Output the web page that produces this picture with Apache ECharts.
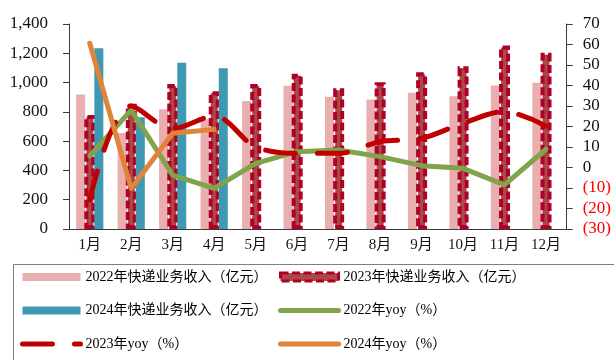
<!DOCTYPE html>
<html>
<head>
<meta charset="utf-8">
<script src="https://cdn.jsdelivr.net/npm/echarts@6/dist/echarts.min.js"></script>
<style>
  html, body { margin: 0; padding: 0; background: #fff; }
  #chart { width: 614px; height: 360px; }
</style>
</head>
<body>
<div id="chart"></div>
<script>
// Monthly express-delivery revenue (亿元) and year-on-year growth (%)
const months = ['1月', '2月', '3月', '4月', '5月', '6月', '7月', '8月', '9月', '10月', '11月', '12月'];
const rev2022 = [918, 656, 818, 750, 875, 978, 903, 885, 930, 907, 980, 998];
const rev2023 = [779, 855, 990, 941, 990, 1060, 961, 1002, 1070, 1111, 1253, 1203];
const rev2024 = [1234, 763, 1136, 1098];
const yoy2022 = [5.6, 28, -3.7, -10.2, 2, 7.7, 8.5, 5.3, 0.9, -0.4, -8.5, 8.9];
const yoy2023 = [-15.9, 30, 19, 25, 10.2, 6.9, 6.9, 12.6, 14.2, 21.6, 27.2, 20.2];
const yoy2024 = [60.6, -10.2, 16.7, 18.6];
const leftTicks = { min: 0, max: 1400, step: 200 };
const rightTicks = { min: -30, max: 70, step: 10 };

const names = [
  '2022年快递业务收入（亿元）',
  '2023年快递业务收入（亿元）',
  '2024年快递业务收入（亿元）',
  '2022年yoy（%）',
  '2023年yoy（%）',
  '2024年yoy（%）'
];

const FONT = '"Liberation Serif", "Times New Roman", "Noto Sans CJK SC", serif';
const AXIS_COLOR = '#3a3a3a';
const C_PINK = '#E9AFAE';
const C_TEAL = '#4099B2';
const C_GREEN = '#7FA449';
const C_ORANGE = '#E0843C';
const C_RED = '#C00000';
const C_BAR23 = '#AD4848';
const C_BAR23_EDGE = '#B0002A';
const BAR23_DASH = [8, 3.5];
const LINE23_DASH = [30, 22];
const BAR_GAP = '-9%';

const chart = echarts.init(document.getElementById('chart'), null, { renderer: 'canvas' });

const legendText = { fontFamily: FONT, fontSize: 14, color: '#000', lineHeight: 14 };

function legendCol(left, items) {
  return {
    orient: 'vertical',
    left: left,
    top: 270,
    itemWidth: 58,
    itemHeight: 8,
    itemGap: 19.5,
    padding: 0,
    selectedMode: false,
    textStyle: legendText,
    data: items
  };
}

// line entries: hide the marker dot, keep a thick stroke
function lineEntry(name, dash) {
  return {
    name: name,
    itemStyle: { opacity: 0 },
    lineStyle: { width: 5, cap: 'round', type: dash || 'solid' }
  };
}

chart.setOption({
  animation: false,
  backgroundColor: '#fff',
  grid: { left: 69, right: 47, top: 24, bottom: 131, containLabel: false },
  legend: [
    legendCol(20, [
      { name: names[0], icon: 'rect' },
      { name: names[2], icon: 'rect' },
      lineEntry(names[4], LINE23_DASH)
    ]),
    legendCol(278, [
      { name: names[1], icon: 'rect', itemStyle: { borderType: BAR23_DASH, borderWidth: 3, borderColor: C_BAR23_EDGE } },
      lineEntry(names[3]),
      lineEntry(names[5])
    ])
  ],
  graphic: [{
    type: 'rect',
    left: 11, top: 262,
    shape: { width: 601, height: 96 },
    style: { fill: 'none', stroke: '#7f7f7f', lineWidth: 1 },
    silent: true
  }],
  xAxis: {
    type: 'category',
    data: months,
    boundaryGap: true,
    axisLine: { lineStyle: { color: AXIS_COLOR, width: 1 } },
    axisTick: { alignWithLabel: false, length: 5, lineStyle: { color: AXIS_COLOR } },
    axisLabel: { fontFamily: FONT, fontSize: 15, color: '#111', margin: 9 }
  },
  yAxis: [
    {
      type: 'value',
      min: leftTicks.min, max: leftTicks.max, interval: leftTicks.step,
      splitLine: { show: false },
      axisLine: { show: true, lineStyle: { color: AXIS_COLOR, width: 1 } },
      axisTick: { show: true, length: 6, lineStyle: { color: AXIS_COLOR } },
      axisLabel: {
        fontFamily: FONT, fontSize: 17, color: '#111', margin: 21,
        formatter: v => v.toLocaleString('en-US')
      }
    },
    {
      type: 'value',
      min: rightTicks.min, max: rightTicks.max, interval: rightTicks.step,
      position: 'right',
      splitLine: { show: false },
      axisLine: { show: true, lineStyle: { color: AXIS_COLOR, width: 1 } },
      axisTick: { show: true, length: 6, lineStyle: { color: AXIS_COLOR } },
      axisLabel: {
        fontFamily: FONT, fontSize: 17, color: '#111', margin: 16, align: 'left',
        formatter: v => (v < 0 ? '{neg|(' + (-v) + ')}' : String(v)),
        rich: { neg: { fontFamily: FONT, fontSize: 17, color: '#FF0000' } }
      }
    }
  ],
  series: [
    {
      name: names[0], type: 'bar', data: rev2022, barWidth: 9, barGap: BAR_GAP,
      itemStyle: { color: C_PINK }
    },
    {
      // the border is drawn inside the bar, so the bar is a little wider
      name: names[1], type: 'bar', data: rev2023, barWidth: 11, barGap: BAR_GAP,
      itemStyle: { color: C_BAR23, borderColor: C_BAR23_EDGE, borderWidth: 4, borderType: BAR23_DASH }
    },
    {
      name: names[2], type: 'bar', data: rev2024, barWidth: 9, barGap: BAR_GAP,
      itemStyle: { color: C_TEAL }
    },
    {
      name: names[3], type: 'line', yAxisIndex: 1, data: yoy2022,
      symbol: 'none', smooth: false,
      lineStyle: { color: C_GREEN, width: 5, cap: 'round', join: 'round' },
      itemStyle: { color: C_GREEN }
    },
    {
      name: names[4], type: 'line', yAxisIndex: 1, data: yoy2023,
      symbol: 'none', smooth: 0.35,
      lineStyle: { color: C_RED, width: 5, type: LINE23_DASH, cap: 'round', join: 'round' },
      itemStyle: { color: C_RED }
    },
    {
      name: names[5], type: 'line', yAxisIndex: 1, data: yoy2024,
      symbol: 'none', smooth: false,
      lineStyle: { color: C_ORANGE, width: 5, cap: 'round', join: 'round' },
      itemStyle: { color: C_ORANGE }
    }
  ]
});
</script>
</body>
</html>
